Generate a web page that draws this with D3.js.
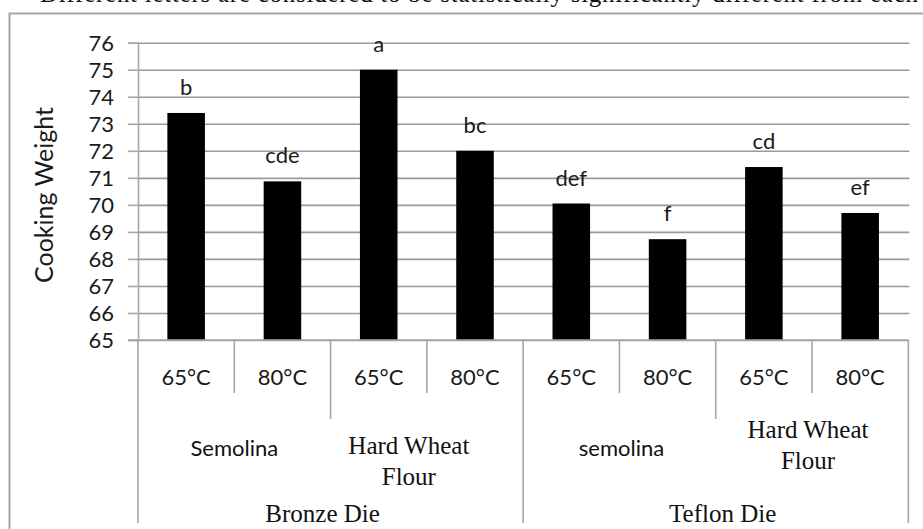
<!DOCTYPE html>
<html>
<head>
<meta charset="utf-8">
<script src="https://cdn.jsdelivr.net/npm/d3@7"></script>
<style>
  html, body { margin: 0; padding: 0; background: #fff; }
  svg { display: block; }
</style>
</head>
<body>
<svg id="chart" width="923" height="529"></svg>
<script>
// ---- data ----
const temperatures = ["65°C", "80°C", "65°C", "80°C", "65°C", "80°C", "65°C", "80°C"];
const flours = [["Semolina"], ["Hard Wheat", "Flour"], ["semolina"], ["Hard Wheat", "Flour"]];
const dies = ["Bronze Die", "Teflon Die"];
const cookingWeight = [73.4, 70.87, 75.0, 72.0, 70.05, 68.73, 71.4, 69.7];
const significance = ["b", "cde", "a", "bc", "def", "f", "cd", "ef"];
const yTicks = [65, 66, 67, 68, 69, 70, 71, 72, 73, 74, 75, 76];
const yTitle = "Cooking Weight";
const captionFragment = "Different letters are considered to be statistically significantly different from each other";

(function () {
// ---- layout ----
const svg = d3.select("#chart");
const pLeft = 138, pRight = 908.3, pTop = 42.7, pBottom = 340;
const sans = "Lato, 'Open Sans', sans-serif";
const serif = "'Liberation Serif', 'DejaVu Serif', serif";
const grey = "#a6a6a6";

// clipped caption line above the chart (only its lower edge is in view, as in the source)
svg.append("text")
  .attr("x", 40).attr("y", 2)
  .attr("font-family", serif).attr("font-size", 25)
  .attr("fill", "#111")
  .attr("textLength", 940)
  .text(captionFragment);

// outer chart border (extends past right/bottom of view)
svg.append("rect")
  .attr("x", 9.5).attr("y", 13.5)
  .attr("width", 960).attr("height", 560)
  .attr("fill", "#fff")
  .attr("stroke", grey).attr("stroke-width", 2);

const y = d3.scaleLinear().domain([65, 76]).range([pBottom, pTop]);
const x = d3.scaleBand().domain(d3.range(cookingWeight.length))
  .range([pLeft, pRight]).paddingInner(0.61).paddingOuter(0.305);
const step = x.step();

// gridlines
svg.append("g")
  .attr("transform", `translate(${pLeft},0)`)
  .call(d3.axisLeft(y).tickValues(yTicks).tickSize(-(pRight - pLeft + 1)).tickFormat(""))
  .call(g => g.select(".domain").remove())
  .call(g => g.selectAll("line").attr("stroke", "#9a9a9a").attr("stroke-width", 1.6));

// y axis
svg.append("g")
  .attr("transform", `translate(${pLeft},0)`)
  .call(d3.axisLeft(y).tickValues(yTicks).tickSize(10).tickPadding(14).tickFormat(d3.format("d")))
  .call(g => g.select(".domain").attr("stroke", grey).attr("stroke-width", 1.6))
  .call(g => g.selectAll("line").attr("stroke", grey).attr("stroke-width", 1.6))
  .call(g => g.selectAll("text").attr("font-family", sans).attr("font-size", 22).attr("fill", "#1a1a1a").attr("dy", "0.36em"));

// y title
svg.append("text")
  .attr("transform", `translate(53,195) rotate(-90)`)
  .attr("text-anchor", "middle")
  .attr("font-family", sans).attr("font-size", 25)
  .attr("fill", "#1a1a1a")
  .text(yTitle);

// bars
svg.append("g").selectAll("rect")
  .data(cookingWeight)
  .join("rect")
  .attr("x", (d, i) => x(i))
  .attr("width", x.bandwidth())
  .attr("y", d => y(d))
  .attr("height", d => y(65) - y(d))
  .attr("fill", "#000");

// significance letters
svg.append("g").selectAll("text")
  .data(significance)
  .join("text")
  .attr("x", (d, i) => x(i) + x.bandwidth() / 2)
  .attr("y", (d, i) => y(cookingWeight[i]) - 18)
  .attr("text-anchor", "middle")
  .attr("font-family", sans).attr("font-size", 22)
  .attr("fill", "#1a1a1a")
  .text(d => d);

// x axis (multi-level category axis)
const ax = svg.append("g").attr("stroke", grey).attr("stroke-width", 1.6);
ax.append("line").attr("x1", pLeft - 10).attr("x2", pRight).attr("y1", pBottom).attr("y2", pBottom);
const edges = d3.range(cookingWeight.length + 1).map(i => pLeft + i * step);
edges.forEach((ex, i) => {
  let len;
  if (i % 4 === 0) len = 183;       // die boundaries
  else if (i % 2 === 0) len = 79;   // flour boundaries
  else len = 53;                    // temperature boundaries
  ax.append("line").attr("x1", ex).attr("x2", ex).attr("y1", pBottom).attr("y2", pBottom + len);
});

// level 1: temperatures
svg.append("g").selectAll("text")
  .data(temperatures)
  .join("text")
  .attr("x", (d, i) => x(i) + x.bandwidth() / 2)
  .attr("y", 377)
  .attr("dy", "0.36em")
  .attr("text-anchor", "middle")
  .attr("font-family", sans).attr("font-size", 22)
  .attr("fill", "#1a1a1a")
  .text(d => d);

// level 2: flours
const flourLayout = [
  { dx: 0, ys: [448], font: sans },
  { dx: -18, ys: [445, 476], font: serif },
  { dx: 2, ys: [448], font: sans },
  { dx: -4, ys: [429, 460], font: serif }
];
flours.forEach((lines, i) => {
  const cx = pLeft + (i * 2 + 1) * step;
  const L = flourLayout[i];
  lines.forEach((ln, k) => {
    svg.append("text")
      .attr("x", cx + L.dx).attr("y", L.ys[k]).attr("dy", "0.36em")
      .attr("text-anchor", "middle")
      .attr("font-family", L.font).attr("font-size", L.font === serif ? 25 : 22)
      .attr("fill", "#111")
      .text(ln);
  });
});

// level 3: dies
const dieDx = [-8, 7];
dies.forEach((d, i) => {
  const cx = pLeft + (i * 4 + 2) * step;
  svg.append("text")
    .attr("x", cx + dieDx[i]).attr("y", 513).attr("dy", "0.36em")
    .attr("text-anchor", "middle")
    .attr("font-family", serif).attr("font-size", 25)
    .attr("fill", "#111")
    .text(d);
});
})();
</script>
</body>
</html>
